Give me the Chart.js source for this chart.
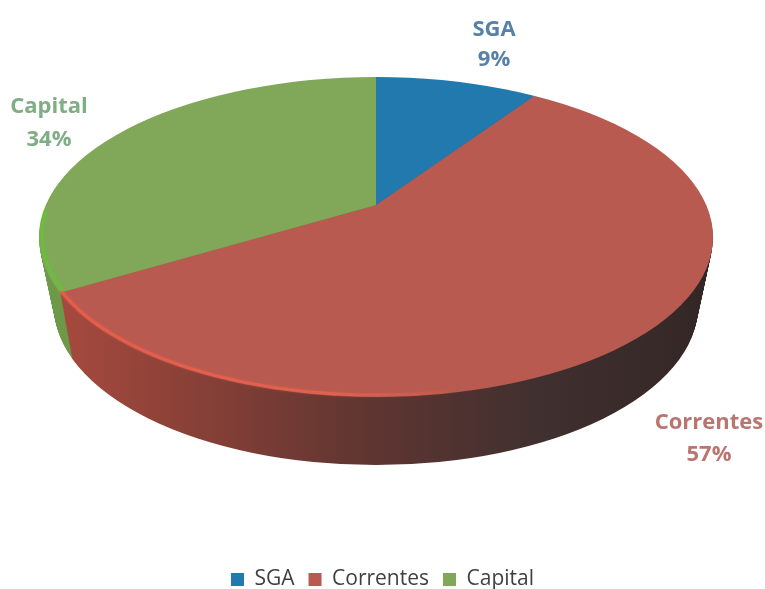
<!DOCTYPE html>
<html><head><meta charset="utf-8">
<script src="https://cdn.jsdelivr.net/npm/chart.js@4"></script>
<style>html,body{margin:0;padding:0;background:#fff}canvas{display:block}</style>
</head><body>
<canvas id="c" width="765" height="589"></canvas>
<script>
const categories = ["SGA", "Correntes", "Capital"];
const shares = [9, 57, 34];
const sliceColors = ["#2179ad", "#b85a50", "#80a858"];
const labelColors = ["#5681a8", "#b97570", "#7fae84"];

// Tilted-disc geometry
const APEX = {x: 376, y: 205};
const TILT = 0.437;
const TOP = {cx: 376, cy: 237, rx: 337, ry: 160};
const BOTTOM = {cx: 376, cy: 306, rx: 322, ry: 159};
const LABEL_FONT = 'bold 22px "Open Sans"';
const LABEL_POS = [[494, 36, 66], [709, 429, 461], [49, 113, 146]];

function sideFill(ctx, i) {
  const g = ctx.createLinearGradient(40, 0, 712, 0);
  if (i === 1) {
    g.addColorStop(0, "#ad4b40"); g.addColorStop(0.2, "#8e4238");
    g.addColorStop(0.5, "#5f3531"); g.addColorStop(0.75, "#40302f"); g.addColorStop(1, "#332726");
  } else if (i === 2) {
    g.addColorStop(0, "#6d9a48"); g.addColorStop(1, "#5f8a44");
  } else {
    g.addColorStop(0, "#1b6390"); g.addColorStop(1, "#1b6390");
  }
  return g;
}
function tiltTo(ctx, arc, dy) {
  ctx.translate(APEX.x, APEX.y + dy);
  ctx.scale(1, TILT);
  ctx.translate(-arc.x, -arc.y);
}
const disc3d = {
  id: "disc3d",
  beforeDatasetsDraw(chart) {
    const ctx = chart.ctx, arcs = chart.getDatasetMeta(0).data, depth = BOTTOM.cy - TOP.cy;
    for (let d = depth; d >= 1; d--) {
      const t = d / depth;
      ctx.save();
      ctx.beginPath();
      ctx.ellipse(TOP.cx, TOP.cy + d, TOP.rx + (BOTTOM.rx - TOP.rx) * t, TOP.ry + (BOTTOM.ry - TOP.ry) * t, 0, 0, Math.PI * 2);
      ctx.clip();
      arcs.forEach((arc, i) => {
        ctx.save();
        tiltTo(ctx, arc, d);
        const side = Object.create(arc);
        side.options = Object.assign({}, arc.options, {backgroundColor: sideFill(ctx, i), borderWidth: 0});
        side.draw(ctx);
        ctx.restore();
      });
      ctx.restore();
    }
    ctx.save();
    ctx.beginPath();
    ctx.ellipse(TOP.cx, TOP.cy, TOP.rx, TOP.ry, 0, 0, Math.PI * 2);
    ctx.clip();
    tiltTo(ctx, arcs[0], 0);
  },
  afterDatasetsDraw(chart) {
    const ctx = chart.ctx;
    ctx.restore();
    ctx.save();
    ctx.lineWidth = 3;
    ctx.shadowBlur = 3;
    ctx.shadowColor = "rgba(232,92,72,.6)";
    let g = ctx.createLinearGradient(60, 0, 470, 0);
    g.addColorStop(0, "rgba(232,92,72,1)");
    g.addColorStop(0.65, "rgba(232,100,80,.75)");
    g.addColorStop(1, "rgba(232,100,80,0)");
    ctx.strokeStyle = g;
    ctx.beginPath();
    ctx.ellipse(TOP.cx, TOP.cy - 2, TOP.rx - 1, TOP.ry, 0, 1.35, 2.787);
    ctx.stroke();
    ctx.shadowColor = "rgba(109,187,63,.6)";
    ctx.strokeStyle = "#6dbb3f";
    ctx.beginPath();
    ctx.ellipse(TOP.cx, TOP.cy - 2, TOP.rx - 3, TOP.ry, 0, 2.787, 3.3);
    ctx.stroke();
    ctx.restore();
  },
  afterDraw(chart) {
    const ctx = chart.ctx;
    ctx.save();
    ctx.font = LABEL_FONT;
    ctx.textAlign = "center";
    ctx.textBaseline = "alphabetic";
    categories.forEach((name, i) => {
      ctx.fillStyle = labelColors[i];
      ctx.fillText(name, LABEL_POS[i][0], LABEL_POS[i][1]);
      ctx.fillText(shares[i] + "%", LABEL_POS[i][0], LABEL_POS[i][2]);
    });
    ctx.restore();
  }
};
new Chart(document.getElementById("c"), {
  type: "pie",
  data: {labels: categories, datasets: [{data: shares, backgroundColor: sliceColors, borderWidth: 0, clip: false}]},
  plugins: [disc3d],
  options: {
    responsive: false, animation: false, events: [],
    radius: 460,
    layout: {padding: {bottom: -11}},
    plugins: {
      tooltip: {enabled: false},
      title: {display: false},
      legend: {
        position: "bottom",
        labels: {boxWidth: 13, boxHeight: 13, padding: 14, color: "#3f3f3f", font: {family: '"Open Sans"', size: 21}}
      }
    }
  }
});
</script>
</body></html>
